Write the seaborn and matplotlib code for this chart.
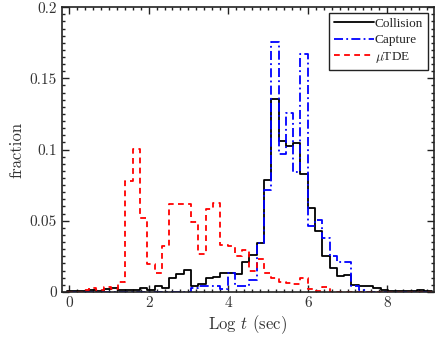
import numpy as np
import matplotlib
matplotlib.use('Agg')
import matplotlib.pyplot as plt
import seaborn as sns
from matplotlib.ticker import MultipleLocator, FuncFormatter

# 50 bins in log t
bin_lo, bin_hi, n_bins = -0.05, 9.117, 50

collision = [0.0005, 0.0008, 0.0005, 0.001, 0.0008, 0.002, 0.003, 0.001, 0.001, 0.0015,
             0.003, 0.0012, 0.004, 0.0025, 0.0095, 0.0125, 0.0155, 0.004, 0.0055, 0.0095,
             0.0106, 0.013, 0.013, 0.0125, 0.0207, 0.026, 0.034, 0.0784, 0.1357, 0.106,
             0.1027, 0.1045, 0.083, 0.059, 0.0431, 0.0254, 0.0165, 0.0113, 0.012, 0.005,
             0.004, 0.004, 0.0025, 0.001, 0.0005, 0.0005, 0.0003, 0.0003, 0.001, 0.0003]

capture = [0, 0, 0, 0, 0, 0, 0, 0, 0, 0,
           0, 0, 0, 0, 0, 0, 0, 0.003, 0.004, 0.004,
           0.004, 0.002, 0.013, 0.0042, 0.0042, 0.0085, 0.034, 0.0719, 0.1758, 0.0966,
           0.1256, 0.0839, 0.1668, 0.046, 0.0502, 0.0377, 0.0254, 0.0207, 0.0207, 0.0042,
           0.001, 0, 0, 0, 0, 0, 0, 0, 0, 0]

mutde = [0, 0, 0.001, 0.003, 0.0015, 0.0035, 0.002, 0.0066, 0.0777, 0.1003,
         0.052, 0.0196, 0.013, 0.0325, 0.0615, 0.0615, 0.0615, 0.049, 0.0266, 0.058,
         0.0625, 0.033, 0.032, 0.025, 0.0295, 0.015, 0.023, 0.0136, 0.0097, 0.0071,
         0.006, 0.0055, 0.0097, 0.002, 0.0005, 0.0035, 0, 0, 0, 0,
         0, 0, 0, 0, 0, 0, 0, 0, 0, 0]

sns.set_style('ticks')
plt.rcParams['font.family'] = 'serif'
plt.rcParams['font.serif'] = ['cmr10']
plt.rcParams['mathtext.fontset'] = 'cm'
plt.rcParams['axes.formatter.use_mathtext'] = True

edges = np.linspace(bin_lo, bin_hi, n_bins + 1)
centers = 0.5 * (edges[:-1] + edges[1:])

fig = plt.figure(figsize=(4.36, 3.41), dpi=100)
ax = fig.add_axes([0.142, 0.144, 0.853, 0.835])

series = [
    (collision, 'Collision', 'black', '-'),
    (capture, 'Capture', 'blue', (0, (5, 1.8, 1, 1.8))),
    (mutde, r'$\mu$TDE', 'red', (0, (3.2, 2.4))),
]
for vals, name, col, ls in series:
    sns.histplot(x=centers, weights=vals, bins=n_bins, binrange=(bin_lo, bin_hi),
                 element='step', fill=False, color=col, linewidth=1.3,
                 linestyle=ls, label=name, ax=ax)

ax.set_xlim(-0.18, 9.17)
ax.set_ylim(0, 0.2)
ax.xaxis.set_major_locator(MultipleLocator(2))
ax.xaxis.set_minor_locator(MultipleLocator(0.2))
ax.yaxis.set_major_locator(MultipleLocator(0.05))
ax.yaxis.set_minor_locator(MultipleLocator(0.005))
ax.yaxis.set_major_formatter(FuncFormatter(lambda v, p: '%g' % v))
ax.xaxis.set_major_formatter(FuncFormatter(lambda v, p: '%g' % v))
ax.tick_params(which='both', direction='in', top=True, right=True, labelsize=11,
               width=1.0, colors='#222222', labelcolor='#333333')
ax.tick_params(which='major', length=5)
ax.tick_params(which='minor', length=2.5)
for s in ax.spines.values():
    s.set_linewidth(1.2)
    s.set_color('#222222')

ax.set_xlabel(r'Log $t$ (sec)', fontsize=12, color='#333333', labelpad=2)
ax.set_ylabel('fraction', fontsize=12, color='#333333', labelpad=4)

leg = ax.legend(loc='upper right', prop={'family': 'Liberation Serif', 'size': 9.5},
                frameon=True, fancybox=False, edgecolor='#222222', framealpha=1,
                handlelength=3.0, handletextpad=0.1, labelspacing=0.3,
                borderaxespad=0.45, borderpad=0.35)
leg.get_frame().set_linewidth(1.0)

fig.savefig('out.png', dpi=100)
